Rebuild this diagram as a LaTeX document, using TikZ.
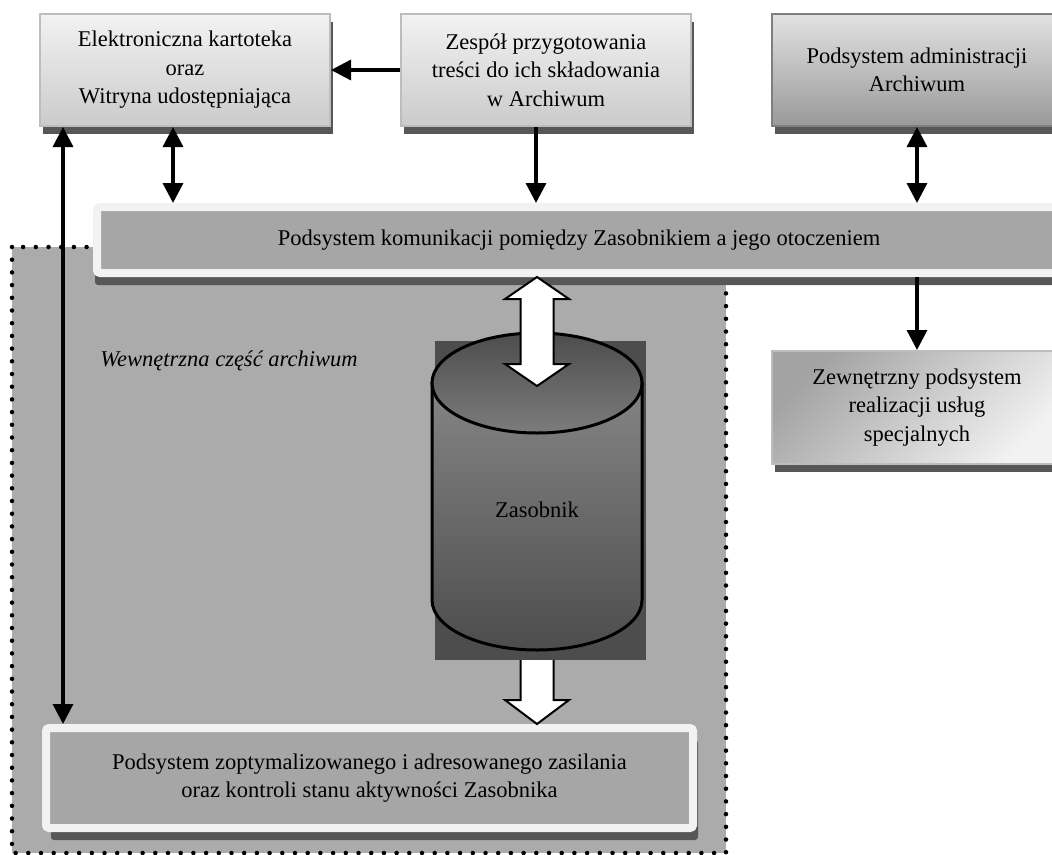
\documentclass[tikz,border=0pt]{standalone}
\usepackage{fontspec}
\setmainfont{Liberation Serif}
\usetikzlibrary{arrows.meta,shadows}
\definecolor{boxtop}{HTML}{F2F2F2}
\definecolor{boxbottom}{HTML}{CBCBCB}
\definecolor{boxrim}{HTML}{BDBDBD}
\definecolor{darktop}{HTML}{E2E2E2}
\definecolor{darkbottom}{HTML}{999999}
\definecolor{darkrim}{HTML}{7F7F7F}
\definecolor{shadowgray}{HTML}{575757}
\definecolor{regiongray}{HTML}{ABABAB}
\definecolor{bargray}{HTML}{A6A6A6}
\definecolor{rimwhite}{HTML}{F2F2F2}
\definecolor{cyldark}{HTML}{4D4D4D}
\definecolor{cylmid}{HTML}{858585}
\definecolor{cyllight}{HTML}{999999}
\definecolor{cyltopbot}{HTML}{7C7C7C}

\begin{document}
\begin{tikzpicture}[x=1pt, y=-1pt,
  every node/.style={font=\fontsize{22.5}{28.5}\selectfont, align=center, inner sep=0pt},
  lightbox/.style={draw=boxrim, line width=2pt, top color=boxtop, bottom color=boxbottom,
    minimum width=290pt, minimum height=112pt,
    general shadow={fill=shadowgray, shadow xshift=3pt, shadow yshift=-8pt}},
  darkbox/.style={lightbox, draw=darkrim, top color=darktop, bottom color=darkbottom},
  sidebox/.style={lightbox, draw=boxrim, top color=darkbottom!90, bottom color=boxtop, shading angle=45},
  rimbox/.style={draw=rimwhite, fill=bargray, line width=8pt, rounded corners=3pt},
  dotline/.style={line width=4.5pt, dash pattern=on 0pt off 12.7pt, line cap=round},
  link/.style={line width=3.3pt, >={Triangle[length=20pt,width=20pt]}},
  bigarrow/.style={fill=white, draw=black, line width=2pt, line join=miter},
  cylline/.style={draw=black, line width=3pt}]
\useasboundingbox (0,0) rectangle (1052,854);

%Inner part
\fill[regiongray] (12,247) rectangle (726,853);
\draw[dotline] (12,247) rectangle (726,853);
\node[font=\fontsize{22.5}{28.5}\selectfont\itshape] (inner) at (229,361) {Wewnętrzna część archiwum};

%Boxes
\node[rimbox, minimum width=964pt, minimum height=66pt,
  general shadow={fill=shadowgray, shadow xshift=-2pt, shadow yshift=-12pt}] (bar) at (579,240)
  {Podsystem komunikacji pomiędzy Zasobnikiem a jego otoczeniem};
\node[lightbox] (kart) at (185,70) {Elektroniczna kartoteka\\oraz\\Witryna udostępniająca};
\node[lightbox] (zesp) at (546,70) {Zespół przygotowania\\treści do ich składowania\\w Archiwum};
\node[darkbox] (admin) at (917,70) {Podsystem administracji\\Archiwum};
\node[sidebox, minimum height=113pt] (uslug) at (917,407.5) {Zewnętrzny podsystem\\realizacji usług\\specjalnych};
\node[rimbox, minimum width=647pt, minimum height=100pt,
  general shadow={fill=shadowgray, shadow xshift=5pt, shadow yshift=-12pt}] (zasil) at (369.5,778)
  {Podsystem zoptymalizowanego i adresowanego zasilania\\oraz kontroli stanu aktywności Zasobnika};

%Cylinder
\fill[cyldark] (435,341) rectangle (646,660);
\draw[cylline, top color=cylmid, middle color=cyllight, bottom color=cyldark]
  (432,383) -- (432,600) arc[start angle=180, end angle=0, x radius=105, y radius=50] -- (642,383) -- cycle;
\draw[cylline, top color=cyldark, bottom color=cyltopbot] (537,383) ellipse [x radius=105, y radius=50];
\node (zas) at (537,510) {Zasobnik};

%Big arrows
\draw[bigarrow] (537,277) -- (569,299) -- (553.5,299) -- (553.5,364) -- (569,364) -- (537,386)
  -- (505,364) -- (520.5,364) -- (520.5,299) -- (505,299) -- cycle;
\draw[bigarrow] (520.5,660) -- (520.5,700) -- (505,700) -- (537,724) -- (569,700) -- (553.5,700) -- (553.5,660);

%Arrows
\coordinate (lk) at ([xshift=24pt]kart.south west);
\draw[link, ->] (zesp.west) -- (kart.east);
\draw[link, <->] ([xshift=-12pt]kart.south) -- ([xshift=-12pt]kart.south |- bar.north);
\draw[link, ->] ([xshift=-10pt]zesp.south) -- ([xshift=-10pt]zesp.south |- bar.north);
\draw[link, <->] (admin.south) -- (admin.south |- bar.north);
\draw[link, ->] (uslug.north |- bar.south) -- (uslug.north);
\draw[link, <->] (lk) -- (lk |- zasil.north);
\end{tikzpicture}
\end{document}
